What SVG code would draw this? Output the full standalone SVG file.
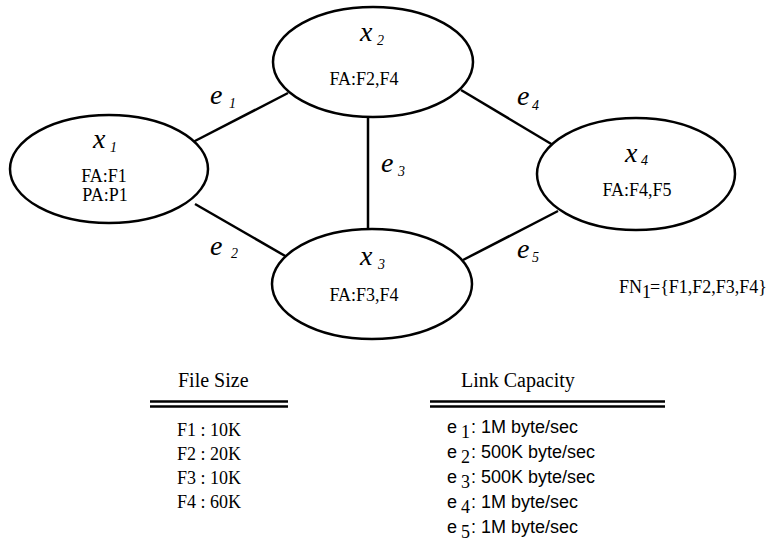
<svg xmlns="http://www.w3.org/2000/svg" width="772" height="542" viewBox="0 0 772 542">
  <style>
    .node { fill: #fff; stroke: #000; stroke-width: 2.5; }
    .edge { stroke: #000; stroke-width: 2.5; fill: none; }
    .rule { stroke: #000; stroke-width: 2.5; }
    .var { font-family: "Liberation Serif", "Times New Roman", serif; font-style: italic; font-size: 28px; fill: #000; }
    .vsub { font-family: "Liberation Serif", "Times New Roman", serif; font-style: italic; font-size: 14px; fill: #000; }
    .txt { font-family: "Liberation Serif", "Times New Roman", serif; font-size: 18px; fill: #000; }
    .head { font-family: "Liberation Serif", "Times New Roman", serif; font-size: 20px; fill: #000; }
    .cap { font-family: "Liberation Sans", Arial, sans-serif; font-size: 18px; fill: #000; }
    .capsub { font-family: "Liberation Serif", "Times New Roman", serif; font-size: 18px; fill: #000; }
  </style>

  <!-- links between sites -->
  <g id="connectors">
    <line class="edge" x1="193" y1="142" x2="288" y2="93"/>
    <line class="edge" x1="195" y1="204" x2="287" y2="257"/>
    <line class="edge" x1="368" y1="117" x2="368" y2="229"/>
    <line class="edge" x1="461" y1="90" x2="553" y2="145"/>
    <line class="edge" x1="463" y1="260" x2="558" y2="211"/>
  </g>

  <!-- link labels -->
  <g id="edge-labels">
    <text class="var" x="210" y="104">e</text><text class="vsub" x="229" y="108">1</text>
    <text class="var" x="210" y="255">e</text><text class="vsub" x="231" y="258">2</text>
    <text class="var" x="381" y="172">e</text><text class="vsub" x="398" y="176">3</text>
    <text class="var" x="517" y="105">e</text><text class="vsub" x="532" y="110">4</text>
    <text class="var" x="517" y="258">e</text><text class="vsub" x="532" y="262">5</text>
  </g>

  <g id="x1">
    <ellipse class="node" cx="109" cy="169" rx="99" ry="54"/>
    <text class="var" x="93" y="148">x</text><text class="vsub" x="110" y="152">1</text>
    <text class="txt" x="104" y="182" text-anchor="middle" font-size="16">FA:F1</text>
    <text class="txt" x="105" y="201" text-anchor="middle" font-size="16">PA:P1</text>
  </g>

  <g id="x2">
    <ellipse class="node" cx="373" cy="62" rx="100" ry="55"/>
    <text class="var" x="360" y="41">x</text><text class="vsub" x="377" y="45">2</text>
    <text class="txt" x="364" y="85" text-anchor="middle">FA:F2,F4</text>
  </g>

  <g id="x3">
    <ellipse class="node" cx="372" cy="284" rx="100" ry="55"/>
    <text class="var" x="360" y="265">x</text><text class="vsub" x="378" y="269">3</text>
    <text class="txt" x="364" y="301" text-anchor="middle">FA:F3,F4</text>
  </g>

  <g id="x4">
    <ellipse class="node" cx="636" cy="174" rx="99" ry="56"/>
    <text class="var" x="625" y="162">x</text><text class="vsub" x="641" y="165">4</text>
    <text class="txt" x="637" y="196" text-anchor="middle">FA:F4,F5</text>
  </g>

  <g id="fn1">
    <text class="txt" x="619" y="293">FN</text>
    <text class="txt" x="642" y="298" font-size="15">1</text>
    <text class="txt" x="650" y="293">={F1,F2,F3,F4}</text>
  </g>

  <!-- file size table -->
  <g id="file-size">
    <text class="head" x="178" y="387">File Size</text>
    <line class="rule" x1="150" y1="401.5" x2="288" y2="401.5"/>
    <line class="rule" x1="150" y1="406.5" x2="288" y2="406.5"/>
    <text class="txt" x="177" y="436" font-size="19">F1 : 10K</text>
    <text class="txt" x="177" y="460" font-size="19">F2 : 20K</text>
    <text class="txt" x="177" y="484" font-size="19">F3 : 10K</text>
    <text class="txt" x="177" y="508" font-size="19">F4 : 60K</text>
  </g>

  <!-- link capacity table -->
  <g id="link-capacity">
    <text class="head" x="461" y="387">Link Capacity</text>
    <line class="rule" x1="430" y1="401.5" x2="665" y2="401.5"/>
    <line class="rule" x1="430" y1="406.5" x2="665" y2="406.5"/>
    <text class="cap" x="447" y="433">e</text><text class="capsub" x="461" y="438">1</text><text class="cap" x="471" y="433">: 1M byte/sec</text>
    <text class="cap" x="447" y="458">e</text><text class="capsub" x="461" y="463">2</text><text class="cap" x="471" y="458">: 500K byte/sec</text>
    <text class="cap" x="447" y="483">e</text><text class="capsub" x="461" y="488">3</text><text class="cap" x="471" y="483">: 500K byte/sec</text>
    <text class="cap" x="447" y="508">e</text><text class="capsub" x="461" y="513">4</text><text class="cap" x="471" y="508">: 1M byte/sec</text>
    <text class="cap" x="447" y="533">e</text><text class="capsub" x="461" y="538">5</text><text class="cap" x="471" y="533">: 1M byte/sec</text>
  </g>
</svg>
